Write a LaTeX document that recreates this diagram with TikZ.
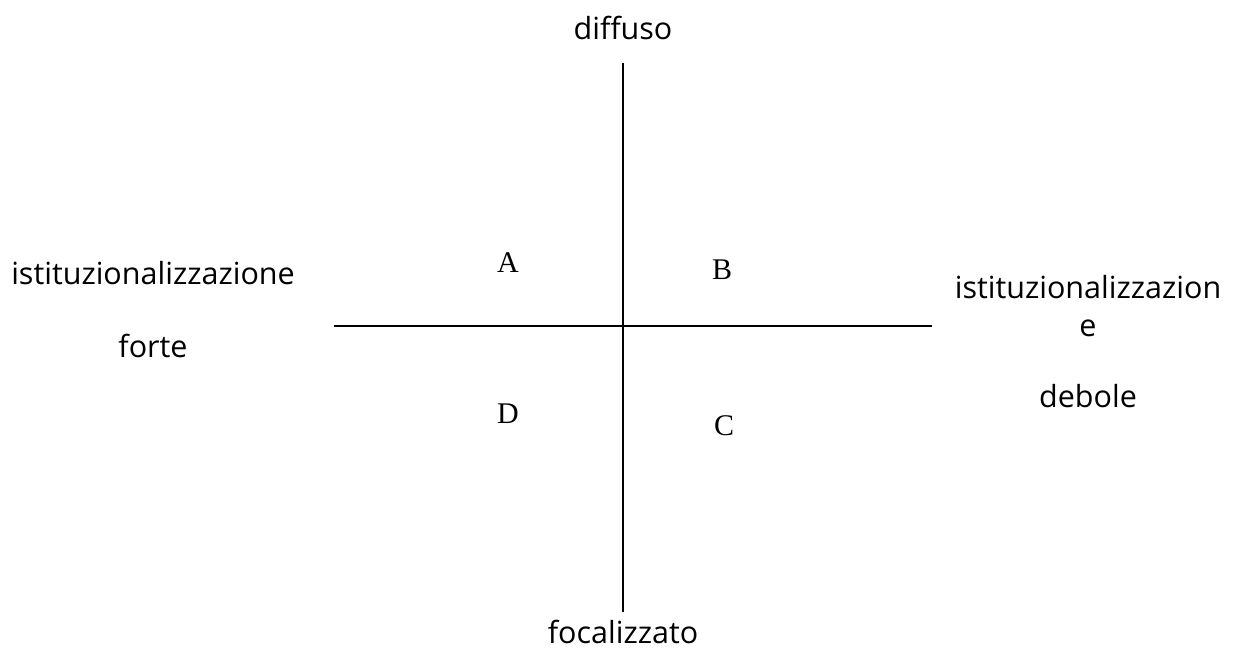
\documentclass[tikz,border=0pt]{standalone}
\usepackage{fontspec}
\setmainfont{Liberation Serif}
\newfontfamily\labelfont{Open Sans}
\usetikzlibrary{positioning}
\tikzset{axislabel/.style={font=\labelfont\fontsize{30.5}{36}\selectfont,anchor=base,inner sep=0pt},
  quadrant/.style={font=\fontsize{30}{36}\selectfont,anchor=base,inner sep=0pt},
  axis/.style={line width=1.4pt,draw=black}}
\begin{document}
\begin{tikzpicture}[x=1pt,y=-1pt]
\useasboundingbox (0,0) rectangle (1233,664);
% axes
\coordinate (top) at (623,63);
\coordinate (bottom) at (623,612);
\coordinate (left) at (334,326);
\coordinate (right) at (932,326);
\draw[axis] (top) -- (bottom);
\draw[axis] (left) -- (right);
% axis labels
\node[axislabel] (diff) at (623,39) {diffuso};
\node[axislabel] (foc) at (623,643) {focalizzato};
\node[axislabel] (strong1) at (153,284) {istituzionalizzazione};
\node[axislabel] (strong2) at (153,357) {forte};
\node[axislabel] (weak1) at (1088,298) {istituzionalizzazion};
\node[axislabel] (weak2) at (1088,336) {e};
\node[axislabel] (weak3) at (1088,407) {debole};
% quadrants
\foreach \q/\x/\y in {A/508/272,B/722/279,D/508/423,C/724/435}{
  \node[quadrant] (q\q) at (\x,\y) {\q};}
\end{tikzpicture}
\end{document}
